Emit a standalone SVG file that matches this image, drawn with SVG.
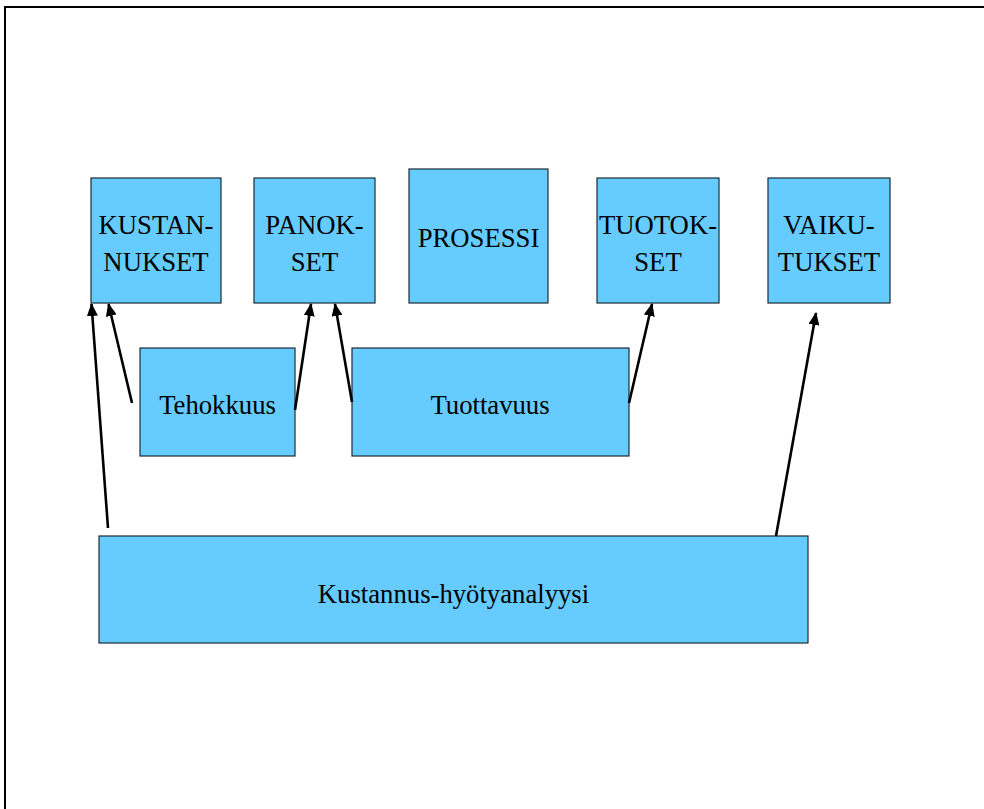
<svg xmlns="http://www.w3.org/2000/svg" width="984" height="809" viewBox="0 0 984 809">
<defs>
<style>
.box{fill:#66CCFF;stroke:#1a2a33;stroke-width:1.2}
.t{font-family:"Liberation Serif","Times New Roman",serif;font-size:26.7px;fill:#000;text-anchor:middle}
.c{stroke:#000;stroke-width:2.6;fill:none;marker-end:url(#ah)}
</style>
<marker id="ah" viewBox="0 0 13 11" refX="12" refY="5.5" markerWidth="13" markerHeight="11" markerUnits="userSpaceOnUse" orient="auto">
<path d="M0,0 L13,5.5 L0,11 Z" fill="#000"/>
</marker>
</defs>
<rect x="0" y="0" width="984" height="809" fill="#fff"/>
<rect x="5" y="7" width="1000" height="900" fill="none" stroke="#000" stroke-width="2"/>
<g id="kustannukset"><rect class="box" x="91" y="178" width="130" height="125"/><text class="t" x="156" y="234">KUSTAN-</text><text class="t" x="156" y="271">NUKSET</text></g>
<g id="panokset"><rect class="box" x="254" y="178" width="121" height="125"/><text class="t" x="314.5" y="234">PANOK-</text><text class="t" x="314.5" y="271">SET</text></g>
<g id="prosessi"><rect class="box" x="409" y="169" width="139" height="134"/><text class="t" x="478.5" y="247">PROSESSI</text></g>
<g id="tuotokset"><rect class="box" x="597" y="178" width="122" height="125"/><text class="t" x="658" y="234">TUOTOK-</text><text class="t" x="658" y="271">SET</text></g>
<g id="vaikutukset"><rect class="box" x="768" y="178" width="122" height="125"/><text class="t" x="829" y="234">VAIKU-</text><text class="t" x="829" y="271">TUKSET</text></g>
<g id="tehokkuus"><rect class="box" x="140" y="348" width="155" height="108"/><text class="t" x="217.5" y="414">Tehokkuus</text></g>
<g id="tuottavuus"><rect class="box" x="352" y="348" width="277" height="108"/><text class="t" x="490" y="414">Tuottavuus</text></g>
<g id="kustannus-hyotyanalyysi"><rect class="box" x="99" y="536" width="709" height="107"/><text class="t" x="453.5" y="603">Kustannus-hyötyanalyysi</text></g>
<g id="connectors">
<line class="c" x1="108" y1="528" x2="91.5" y2="304"/>
<line class="c" x1="132" y1="403" x2="108.5" y2="304"/>
<line class="c" x1="295" y1="410" x2="311" y2="304"/>
<line class="c" x1="352" y1="402" x2="335" y2="304"/>
<line class="c" x1="629" y1="403" x2="652" y2="304"/>
<line class="c" x1="776" y1="536" x2="816" y2="313"/>
</g>
</svg>
